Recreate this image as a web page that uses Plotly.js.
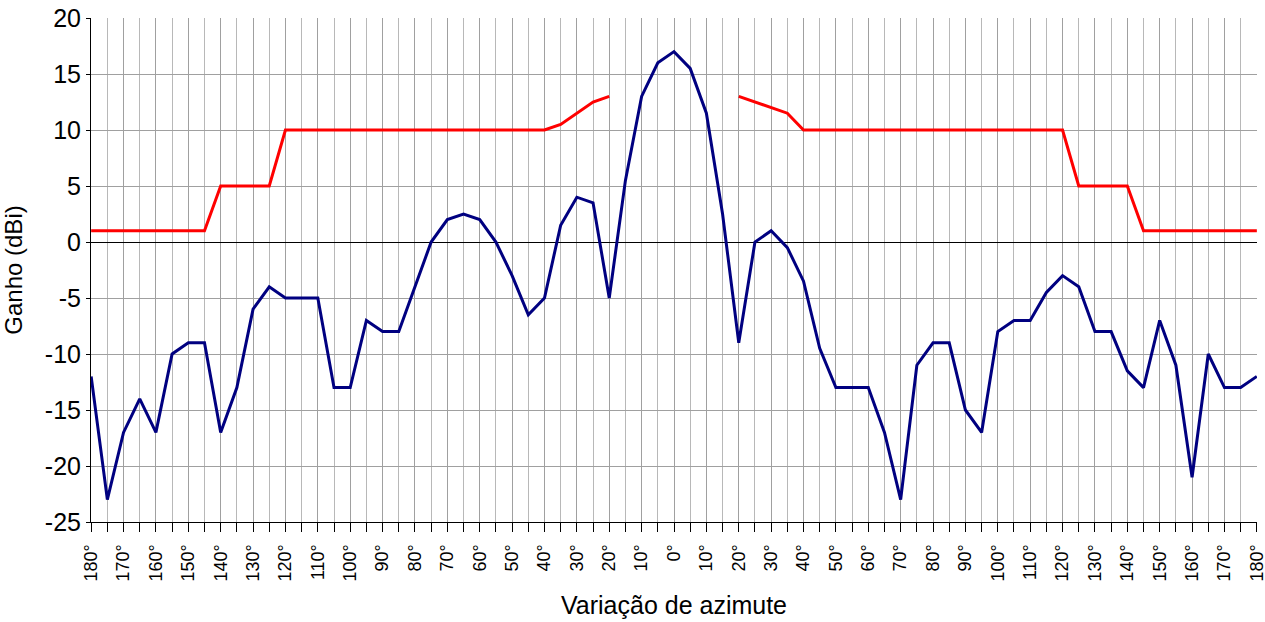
<!DOCTYPE html>
<html><head><meta charset="utf-8">
<script src="https://cdn.plot.ly/plotly-3.0.1.min.js"></script>
<style>html,body{margin:0;padding:0;background:#fff}#chart{width:1265px;height:622px}</style>
</head><body><div id="chart"></div>
<script>
// azimuth variation (degrees) from -180 to 180 in 5° steps
const angles = [-180,-175,-170,-165,-160,-155,-150,-145,-140,-135,-130,-125,-120,-115,-110,-105,-100,-95,-90,-85,-80,-75,-70,-65,-60,-55,-50,-45,-40,-35,-30,-25,-20,-15,-10,-5,0,5,10,15,20,25,30,35,40,45,50,55,60,65,70,75,80,85,90,95,100,105,110,115,120,125,130,135,140,145,150,155,160,165,170,175,180];
const gain = [-12,-23,-17,-14,-17,-10,-9,-9,-17,-13,-6,-4,-5,-5,-5,-13,-13,-7,-8,-8,-4,0,2,2.5,2,0,-3,-6.5,-5,1.5,4,3.5,-5,5.5,13,16,17,15.5,11.5,2.5,-9,0,1,-0.5,-3.5,-9.5,-13,-13,-13,-17,-23,-11,-9,-9,-15,-17,-8,-7,-7,-4.5,-3,-4,-8,-8,-11.5,-13,-7,-11,-21,-10,-13,-13,-12];
const mask = [1,1,1,1,1,1,1,1,5,5,5,5,10,10,10,10,10,10,10,10,10,10,10,10,10,10,10,10,10,10.5,11.5,12.5,13,null,null,null,null,null,null,null,13,12.5,12,11.5,10,10,10,10,10,10,10,10,10,10,10,10,10,10,10,10,10,5,5,5,5,1,1,1,1,1,1,1,1];
const xTickVals = [-180,-170,-160,-150,-140,-130,-120,-110,-100,-90,-80,-70,-60,-50,-40,-30,-20,-10,0,10,20,30,40,50,60,70,80,90,100,110,120,130,140,150,160,170,180];
const xTickText = xTickVals.map(v => Math.abs(v) + '°');
const yTickVals = [-25,-20,-15,-10,-5,0,5,10,15,20];
const yTickText = yTickVals.map(v => String(v));

const traces = [
  {x: angles, y: mask, mode: 'lines', line: {color: '#ff0000', width: 3}, connectgaps: false, hoverinfo: 'skip'},
  {x: angles, y: gain, mode: 'lines', line: {color: '#000080', width: 3}, hoverinfo: 'skip'}
];
const font = 'Liberation Sans, Arial, sans-serif';
const layout = {
  width: 1265, height: 622,
  margin: {l: 91, r: 8, t: 18, b: 100},
  paper_bgcolor: '#fff', plot_bgcolor: '#fff',
  showlegend: false,
  font: {family: font, color: '#000'},
  xaxis: {
    range: [-180.05, 180.05], tickmode: 'array', tickvals: xTickVals, ticktext: xTickText,
    tickangle: -90, tickfont: {size: 18, family: font}, ticklabeloverflow: 'allow',
    ticks: 'outside', ticklen: 9, tickcolor: '#000', tickwidth: 1, ticklabelstandoff: 5,
    showgrid: true, gridcolor: '#a0a0a0', gridwidth: 1,
    minor: {dtick: 5, tick0: 0, showgrid: true, gridcolor: '#b8b8b8', ticks: 'outside', ticklen: 9, tickcolor: '#000'},
    showline: true, linecolor: '#000', linewidth: 1, mirror: false,
    zeroline: false,
    title: {text: 'Variação de azimute', font: {size: 25, family: font}, standoff: 16}
  },
  yaxis: {
    range: [-25, 20], tickmode: 'array', tickvals: yTickVals, ticktext: yTickText,
    tickfont: {size: 25, family: font},
    ticks: 'outside', ticklen: 4, tickcolor: '#000',
    showgrid: true, gridcolor: '#a0a0a0', gridwidth: 1,
    showline: true, linecolor: '#000', linewidth: 1,
    zeroline: true, zerolinecolor: '#000', zerolinewidth: 1,
    title: {text: 'Ganho (dBi)', font: {size: 24, family: font}, standoff: 16}
  }
};
Plotly.newPlot('chart', traces, layout, {staticPlot: true, displayModeBar: false});
</script></body></html>
